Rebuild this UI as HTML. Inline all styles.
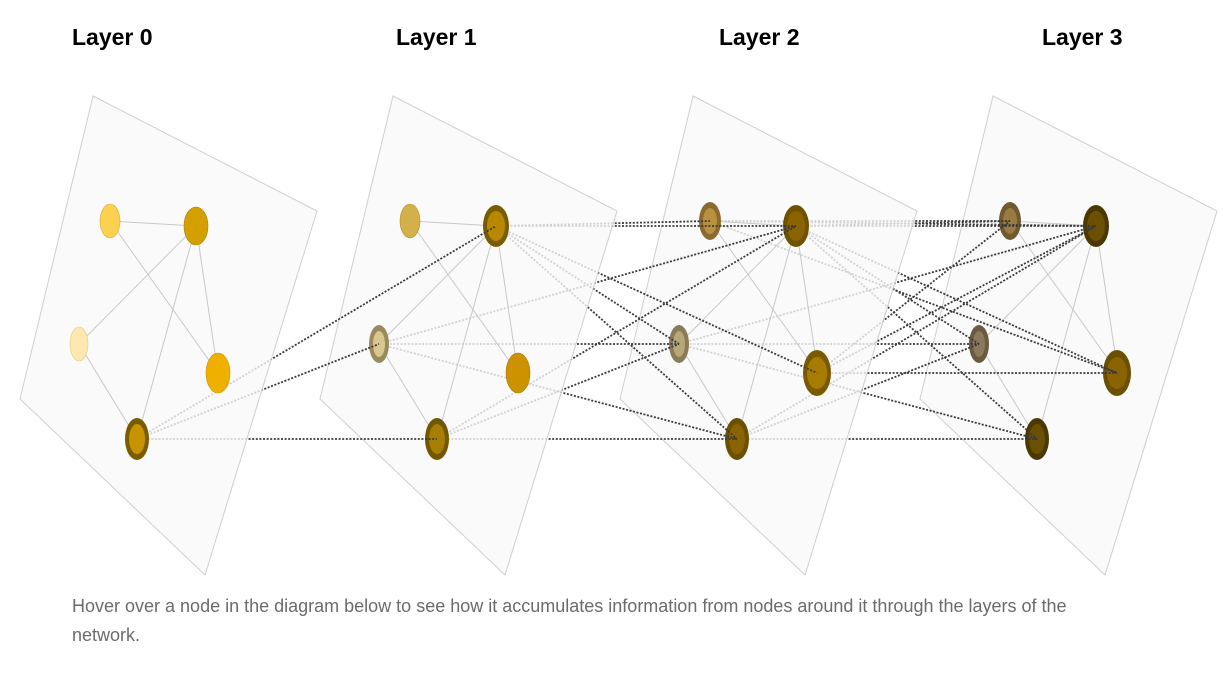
<!DOCTYPE html>
<html><head><meta charset="utf-8"><style>
body{margin:0;background:#fff;width:1226px;height:673px;overflow:hidden;font-family:"Liberation Sans",sans-serif}
.t{position:absolute;top:24px;font-weight:bold;font-size:23px;color:#000}
.cap{position:absolute;left:72px;top:592px;width:1060px;font-size:18px;line-height:29px;color:#6b6b6b}
</style></head><body>
<div class="t" style="left:72px">Layer 0</div>
<div class="t" style="left:396px">Layer 1</div>
<div class="t" style="left:719px">Layer 2</div>
<div class="t" style="left:1042px">Layer 3</div>
<svg width="1226" height="673" style="position:absolute;left:0;top:0">
<defs>
<g id="edges" stroke="#c8c8c8" stroke-width="1" fill="none">
<line x1="110" y1="221" x2="196" y2="226"/><line x1="110" y1="221" x2="218" y2="373"/>
<line x1="196" y1="226" x2="79" y2="344"/><line x1="196" y1="226" x2="137" y2="439"/>
<line x1="196" y1="226" x2="218" y2="373"/><line x1="79" y1="344" x2="137" y2="439"/>
</g>
<polygon id="pl" points="93,96 317,211 205,575 20,399" fill="#f9f9f9" fill-opacity="0.8" stroke="#cfcfcf" stroke-width="1"/>
</defs>
<g transform="translate(900,0)"><use href="#pl"/><use href="#edges"/>
<ellipse cx="110" cy="221" rx="11" ry="19" fill="#705a30"/><ellipse cx="110" cy="221" rx="7" ry="13" fill="#9a7a40"/>
<ellipse cx="196" cy="226" rx="13" ry="21" fill="#4a3800"/><ellipse cx="196" cy="226" rx="9" ry="15" fill="#6a5000"/>
<ellipse cx="79" cy="344" rx="10" ry="19" fill="#6a5a40"/><ellipse cx="79" cy="344" rx="6" ry="13" fill="#8a7a5a"/>
<ellipse cx="217" cy="373" rx="14" ry="23" fill="#6a5000"/><ellipse cx="217" cy="373" rx="10" ry="16" fill="#8a6400"/>
<ellipse cx="137" cy="439" rx="12" ry="21" fill="#4a3800"/><ellipse cx="137" cy="439" rx="8" ry="15" fill="#6a5000"/>
</g>
<g stroke="#3a3a3a" stroke-width="1.8" stroke-dasharray="2,1.6" fill="none">
<line x1="710" y1="221" x2="1010" y2="221"/><line x1="710" y1="221" x2="1096" y2="226"/><line x1="710" y1="221" x2="1117" y2="373"/>
<line x1="796" y1="226" x2="1096" y2="226"/><line x1="796" y1="226" x2="1010" y2="221"/><line x1="796" y1="226" x2="979" y2="344"/><line x1="796" y1="226" x2="1037" y2="439"/><line x1="796" y1="226" x2="1117" y2="373"/>
<line x1="679" y1="344" x2="979" y2="344"/><line x1="679" y1="344" x2="1096" y2="226"/><line x1="679" y1="344" x2="1037" y2="439"/>
<line x1="817" y1="373" x2="1117" y2="373"/><line x1="817" y1="373" x2="1010" y2="221"/><line x1="817" y1="373" x2="1096" y2="226"/>
<line x1="737" y1="439" x2="1037" y2="439"/><line x1="737" y1="439" x2="1096" y2="226"/><line x1="737" y1="439" x2="979" y2="344"/>
</g>
<g transform="translate(600,0)"><use href="#pl"/><use href="#edges"/>
<ellipse cx="110" cy="221" rx="11" ry="19" fill="#8a6a30"/><ellipse cx="110" cy="221" rx="7" ry="13" fill="#b89040"/>
<ellipse cx="196" cy="226" rx="13" ry="21" fill="#6e5200"/><ellipse cx="196" cy="226" rx="9" ry="15" fill="#8a6400"/>
<ellipse cx="79" cy="344" rx="10" ry="19" fill="#8a7a5a"/><ellipse cx="79" cy="344" rx="6" ry="13" fill="#b8a878"/>
<ellipse cx="217" cy="373" rx="14" ry="23" fill="#7a5a00"/><ellipse cx="217" cy="373" rx="10" ry="16" fill="#a87c00"/>
<ellipse cx="137" cy="439" rx="12" ry="21" fill="#6a5000"/><ellipse cx="137" cy="439" rx="8" ry="15" fill="#8a6400"/>
</g>
<g stroke="#3a3a3a" stroke-width="1.8" stroke-dasharray="2,1.6" fill="none">
<line x1="437" y1="439" x2="737" y2="439"/><line x1="437" y1="439" x2="796" y2="226"/><line x1="437" y1="439" x2="679" y2="344"/>
<line x1="496" y1="226" x2="796" y2="226"/><line x1="496" y1="226" x2="710" y2="221"/><line x1="496" y1="226" x2="679" y2="344"/><line x1="496" y1="226" x2="737" y2="439"/><line x1="496" y1="226" x2="817" y2="373"/>
<line x1="379" y1="344" x2="679" y2="344"/><line x1="379" y1="344" x2="796" y2="226"/><line x1="379" y1="344" x2="737" y2="439"/>
</g>
<g transform="translate(300,0)"><use href="#pl"/><use href="#edges"/>
<ellipse cx="110" cy="221" rx="10" ry="17" fill="#d4b04a" stroke="#b89030" stroke-width="0.6"/>
<ellipse cx="196" cy="226" rx="13" ry="21" fill="#7a5c00"/><ellipse cx="196" cy="226" rx="9" ry="15" fill="#b88800"/>
<ellipse cx="79" cy="344" rx="10" ry="19" fill="#9a8a60"/><ellipse cx="79" cy="344" rx="6" ry="13" fill="#d8c890"/>
<ellipse cx="218" cy="373" rx="12" ry="20" fill="#cc9200" stroke="#a87800" stroke-width="0.6"/>
<ellipse cx="137" cy="439" rx="12" ry="21" fill="#735600"/><ellipse cx="137" cy="439" rx="8" ry="15" fill="#a87e00"/>
</g>
<g stroke="#3a3a3a" stroke-width="1.8" stroke-dasharray="2,1.6" fill="none">
<line x1="137" y1="439" x2="437" y2="439"/><line x1="137" y1="439" x2="496" y2="226"/><line x1="137" y1="439" x2="379" y2="344"/>
</g>
<g><use href="#pl"/><use href="#edges"/>
<ellipse cx="110" cy="221" rx="10" ry="17" fill="#fdd150" stroke="#d8a830" stroke-width="0.6"/>
<ellipse cx="196" cy="226" rx="12" ry="19" fill="#d4a000" stroke="#a88000" stroke-width="0.6"/>
<ellipse cx="79" cy="344" rx="9" ry="17" fill="#fde9b0" stroke="#e0c880" stroke-width="0.6"/>
<ellipse cx="218" cy="373" rx="12" ry="20" fill="#f0b000" stroke="#c89000" stroke-width="0.6"/>
<ellipse cx="137" cy="439" rx="12" ry="21" fill="#7a5c00"/><ellipse cx="137" cy="439" rx="8" ry="15" fill="#c79400"/>
</g>
</svg>
<div class="cap">Hover over a node in the diagram below to see how it accumulates information from nodes around it through the layers of the network.</div>
</body></html>
